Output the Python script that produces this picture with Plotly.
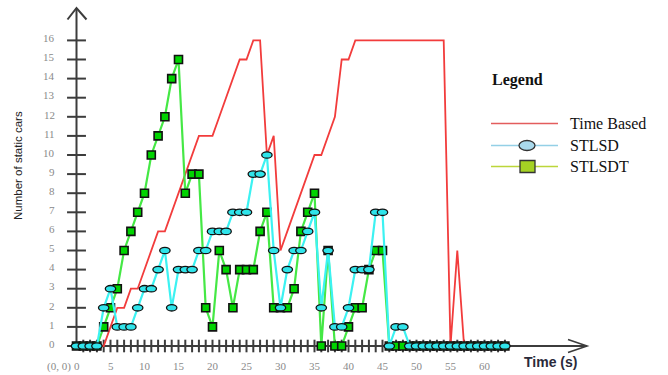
import plotly.graph_objects as go

# ---- data -------------------------------------------------------------
time_s = list(range(64))

time_based = [0, 0, 0, 0, 0, 1, 2, 2, 3, 3,
              4, 5, 6, 6, 7, 8, 9, 10, 11, 11,
              11, 12, 13, 14, 15, 15, 16, 16, 10, 11,
              5, 6, 7, 8, 9, 10, 10, 11, 12, 15,
              15, 16, 16, 16, 16, 16, 16, 16, 16, 16,
              16, 16, 16, 16, 16, 0, 5, 0, 0, 0,
              0, 0, 0, 0]

stlsd = [0, 0, 0, 0, 2, 3, 1, 1, 1, 2,
         3, 3, 4, 5, 2, 4, 4, 4, 5, 5,
         6, 6, 6, 7, 7, 7, 9, 9, 10, 5,
         2, 4, 5, 5, 6, 7, 2, 5, 1, 1,
         2, 4, 4, 4, 7, 7, 0, 1, 1, 0,
         0, 0, 0, 0, 0, 0, 0, 0, 0, 0,
         0, 0, 0, 0]

stlsdt = [0, 0, 0, 0, 1, 2, 3, 5, 6, 7,
          8, 10, 11, 12, 14, 15, 8, 9, 9, 2,
          1, 5, 4, 2, 4, 4, 4, 6, 7, 2,
          2, 2, 3, 6, 7, 8, 0, 5, 0, 0,
          1, 2, 2, 4, 5, 5, 0, 0, 0, 0,
          0, 0, 0, 0, 0, 0, 0, 0, 0, 0,
          0, 0, 0, 0]

y_ticks = list(range(17))
x_ticks = list(range(1, 64))
x_tick_labels = [0, 5, 10, 15, 20, 25, 30, 35, 40, 45, 50, 55, 60]

# ---- geometry ---------------------------------------------------------
W, H = 668, 375
X0, XS = 76.5, 6.8      # pixel of t=0, pixels per second
Y0, YS = 346.0, 19.1    # pixel of y=0, pixels per car


def dx(px):
    return (px - X0) / XS


def dy(py):
    return (Y0 - py) / YS


def pxp(px):
    return px / W


def pyp(py):
    return 1 - py / H


AXIS = "#3c3c3c"
TICK_FONT = dict(family="Liberation Serif", size=11, color="#8a8a8a")

fig = go.Figure()

# tick marks crossing the axes
fig.add_trace(go.Scatter(
    x=x_ticks, y=[0] * len(x_ticks), mode="markers", hoverinfo="skip",
    marker=dict(symbol="line-ns", size=9, line=dict(width=2, color=AXIS)),
    showlegend=False))
fig.add_trace(go.Scatter(
    x=[0] * len(y_ticks), y=y_ticks, mode="markers", hoverinfo="skip",
    marker=dict(symbol="line-ew", size=13.5, line=dict(width=2, color=AXIS)),
    showlegend=False))

# series
fig.add_trace(go.Scatter(
    x=time_s, y=time_based, mode="lines", name="Time Based",
    line=dict(color="#f23c3c", width=1.8), showlegend=False))
fig.add_trace(go.Scatter(
    x=time_s, y=stlsdt, mode="lines+markers", name="STLSDT",
    line=dict(color="#45e845", width=2.2),
    marker=dict(symbol="square", size=8, color="#00d400",
                line=dict(width=1.6, color="#111111")),
    showlegend=False))
fig.add_trace(go.Scatter(
    x=time_s, y=stlsd, mode="lines", name="STLSD",
    line=dict(color="#3cf2f2", width=2.2), showlegend=False))

shapes = []
# STLSD ellipse markers, placed in data coordinates
ew, eh = 5.2 / XS, 3.2 / YS
for t, v in zip(time_s, stlsd):
    shapes.append(dict(type="circle", xref="x", yref="y",
                       x0=t - ew, x1=t + ew, y0=v - eh, y1=v + eh,
                       fillcolor="#2fe4ea", line=dict(color="#111111", width=1.3),
                       layer="above"))

# axes with open arrow heads
top = dy(8)
right = dx(587)
shapes += [
    dict(type="line", xref="x", yref="y", x0=0, y0=0, x1=0, y1=top,
         line=dict(color=AXIS, width=2), layer="below"),
    dict(type="line", xref="x", yref="y", x0=0, y0=0, x1=right, y1=0,
         line=dict(color=AXIS, width=2), layer="below"),
    dict(type="path", xref="x", yref="y",
         path=f"M{dx(67.5)},{dy(19.5)} L0,{top} L{dx(86.5)},{dy(19.5)}",
         line=dict(color=AXIS, width=2)),
    dict(type="path", xref="x", yref="y",
         path=f"M{dx(568)},{dy(339.5)} L{right},0 L{dx(568)},{dy(352.5)}",
         line=dict(color=AXIS, width=1.6)),
]

# hand-built legend box
LX0, LX1 = 491, 558
rows = [("Time Based", 123.5), ("STLSD", 145.5), ("STLSDT", 166.5)]
shapes += [
    dict(type="line", xref="paper", yref="paper", x0=pxp(LX0), x1=pxp(LX1),
         y0=pyp(rows[0][1]), y1=pyp(rows[0][1]), line=dict(color="#e35d5d", width=1.6)),
    dict(type="line", xref="paper", yref="paper", x0=pxp(LX0), x1=pxp(LX1),
         y0=pyp(rows[1][1]), y1=pyp(rows[1][1]), line=dict(color="#94d0e6", width=1.3)),
    dict(type="circle", xref="paper", yref="paper", x0=pxp(519), x1=pxp(535),
         y0=pyp(rows[1][1] + 5), y1=pyp(rows[1][1] - 5),
         fillcolor="#a9d9ec", line=dict(color="#333333", width=1.3)),
    dict(type="line", xref="paper", yref="paper", x0=pxp(LX0), x1=pxp(LX1),
         y0=pyp(rows[2][1]), y1=pyp(rows[2][1]), line=dict(color="#bcd63a", width=1.3)),
    dict(type="rect", xref="paper", yref="paper", x0=pxp(520), x1=pxp(535),
         y0=pyp(rows[2][1] + 6), y1=pyp(rows[2][1] - 6),
         fillcolor="#a5d224", line=dict(color="#333333", width=1.3)),
]

ann = []
for v in y_ticks:
    ann.append(dict(x=dx(57), y=v + 0.12, xref="x", yref="y", text=str(v),
                    showarrow=False, xanchor="right", yanchor="middle", font=TICK_FONT))
for v in x_tick_labels:
    ann.append(dict(x=v, y=dy(366), xref="x", yref="y", text=str(v),
                    showarrow=False, xanchor="center", yanchor="middle", font=TICK_FONT))
ann += [
    dict(x=dx(73), y=dy(366), xref="x", yref="y", text="(0, 0)", showarrow=False,
         xanchor="right", yanchor="middle", font=TICK_FONT),
    dict(x=pxp(18), y=pyp(166), xref="paper", yref="paper", text="Number of static cars",
         showarrow=False, textangle=-90, xanchor="center", yanchor="middle",
         font=dict(family="Liberation Sans", size=11.5, color="#222222")),
    dict(x=pxp(522), y=pyp(362), xref="paper", yref="paper", text="<b>Time (s)</b>",
         showarrow=False, xanchor="left", yanchor="middle",
         font=dict(family="Liberation Sans", size=14, color="#2a2a3a")),
    dict(x=pxp(490), y=pyp(80), xref="paper", yref="paper", text="<b>Legend</b>",
         showarrow=False, xanchor="left", yanchor="middle",
         font=dict(family="Liberation Serif", size=16, color="#111111")),
]
for label, yy in rows:
    ann.append(dict(x=pxp(568), y=pyp(yy), xref="paper", yref="paper", text=label,
                    showarrow=False, xanchor="left", yanchor="middle",
                    font=dict(family="Liberation Serif", size=16, color="#111111")))

fig.update_layout(
    width=W, height=H,
    margin=dict(l=0, r=0, t=0, b=0),
    paper_bgcolor="white", plot_bgcolor="white",
    xaxis=dict(range=[dx(0), dx(W)], visible=False, fixedrange=True),
    yaxis=dict(range=[dy(H), dy(0)], visible=False, fixedrange=True),
    shapes=shapes, annotations=ann,
    showlegend=False, hovermode=False,
)

fig.write_html("out.html")
